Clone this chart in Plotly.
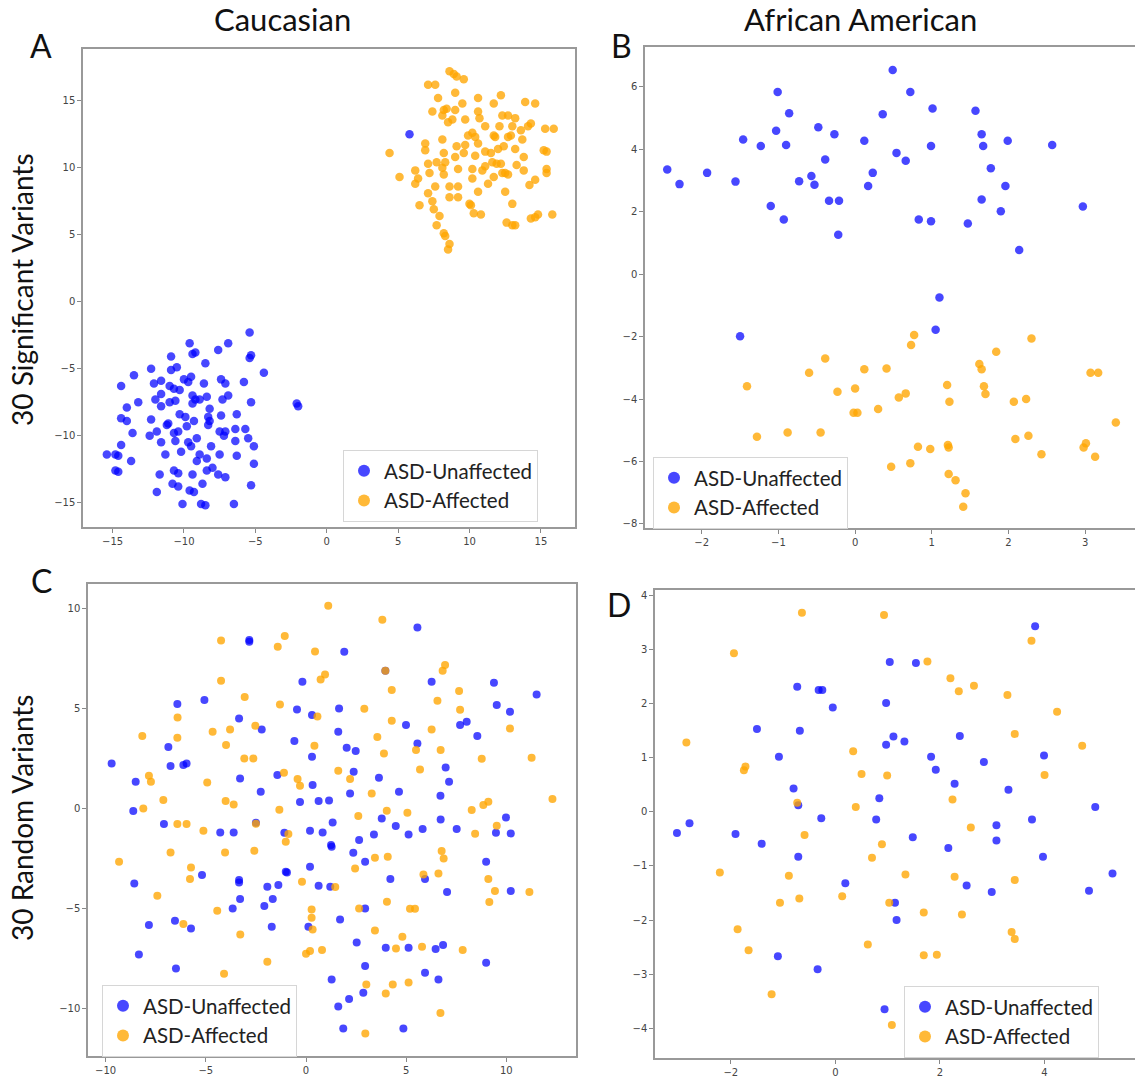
import plotly.graph_objects as go

# ---------------- Panel A: Caucasian, 30 significant variants ----------------
a_unaff = [(-5.4,-2.3),(-9.6,-3.1),(-6.9,-3.1),(-7.6,-3.6),(-9.4,-3.9),(-9.2,-3.8),(-5.4,-4.2),(-5.3,-4.0),
 (-10.9,-4.1),(-8.5,-4.6),(-13.5,-5.5),(-12.3,-5.0),(-10.9,-5.1),(-10.5,-4.9),(-4.4,-5.3),(-14.4,-6.3),
 (-12.1,-6.1),(-11.6,-5.9),(-11.0,-6.3),(-10.7,-6.5),(-10.3,-6.6),(-10.0,-5.8),(-9.7,-6.0),(-9.5,-5.6),
 (-8.6,-6.1),(-7.4,-5.8),(-7.1,-6.1),(-5.8,-6.0),(-13.2,-7.5),(-12.0,-7.3),(-11.6,-6.9),(-11.0,-7.5),
 (-10.6,-7.4),(-9.4,-7.0),(-9.2,-7.3),(-8.9,-7.3),(-8.4,-7.1),(-7.3,-7.3),(-6.9,-7.0),(-14.0,-7.9),
 (-11.6,-7.8),(-9.4,-7.6),(-8.2,-8.0),(-5.3,-7.5),(-2.1,-7.6),(-2.0,-7.8),(-14.4,-8.7),(-14.0,-8.9),
 (-12.3,-8.8),(-10.3,-8.4),(-9.9,-8.6),(-9.3,-8.9),(-8.3,-8.6),(-8.2,-8.9),(-7.4,-8.5),(-6.3,-8.4),
 (-13.6,-9.8),(-12.4,-10.0),(-11.9,-9.7),(-11.2,-9.2),(-11.1,-9.1),(-10.7,-9.8),(-10.4,-9.7),(-9.8,-9.3),
 (-8.3,-9.2),(-7.5,-9.7),(-7.2,-10.0),(-7.1,-9.7),(-6.4,-9.5),(-5.7,-9.5),(-14.4,-10.7),(-11.6,-10.5),
 (-10.6,-10.4),(-9.7,-10.5),(-9.5,-10.8),(-9.1,-10.2),(-8.1,-10.8),(-6.4,-10.4),(-5.5,-10.2),(-5.1,-10.8),
 (-15.4,-11.4),(-14.8,-11.4),(-14.6,-11.5),(-13.7,-11.9),(-11.3,-11.4),(-10.2,-11.2),(-9.1,-11.9),(-8.9,-11.4),
 (-8.4,-11.7),(-7.5,-11.4),(-6.3,-11.5),(-14.8,-12.6),(-14.6,-12.7),(-11.7,-12.9),(-10.7,-12.6),(-10.4,-12.8),
 (-9.4,-12.9),(-8.4,-12.6),(-8.0,-12.4),(-7.6,-12.9),(-7.1,-13.1),(-5.1,-12.1),(-11.9,-14.2),(-10.8,-13.6),
 (-10.4,-13.8),(-9.6,-14.1),(-9.3,-14.2),(-8.7,-13.6),(-5.3,-13.7),(-10.1,-15.1),(-8.8,-15.1),(-8.5,-15.2),
 (-6.5,-15.1),(5.8,12.5)]
a_aff = [(8.6,17.2),(8.9,17.0),(9.1,16.8),(9.6,16.6),(7.1,16.2),(7.6,16.2),(7.8,15.2),(9.0,15.6),(10.6,15.2),(12.2,15.4),
 (13.9,14.9),(14.6,14.8),(7.4,14.2),(8.2,14.3),(8.4,14.4),(9.0,14.3),(9.5,14.8),(10.6,14.2),(11.7,14.8),(8.1,13.9),
 (8.8,13.6),(8.5,13.4),(9.7,13.6),(10.7,13.7),(12.3,13.9),(12.7,13.9),(13.2,13.7),(11.1,13.1),(12.1,13.1),(13.0,13.1),
 (13.6,12.8),(14.1,13.1),(14.3,13.3),(15.3,12.9),(15.9,12.9),(9.9,12.4),(10.2,12.6),(10.4,12.3),(11.7,12.4),(11.8,12.3),
 (12.7,12.3),(12.9,12.4),(13.7,12.1),(6.9,11.8),(8.1,12.1),(9.1,11.6),(9.7,11.7),(10.6,11.8),(12.0,11.4),(12.4,11.6),
 (13.2,11.4),(4.4,11.1),(6.9,11.3),(8.2,11.1),(9.6,11.1),(10.4,10.9),(11.1,11.2),(11.5,11.1),(13.8,10.8),(15.2,11.3),
 (15.4,11.2),(7.1,10.3),(7.7,10.4),(9.0,10.8),(8.3,10.4),(11.6,10.4),(11.9,10.3),(12.2,10.3),(11.1,10.1),(13.3,10.2),
 (6.2,9.8),(7.2,9.6),(8.1,10.0),(8.2,9.5),(9.2,9.9),(10.2,9.9),(10.9,9.8),(12.5,9.6),(12.7,9.5),(13.8,9.8),
 (15.4,9.9),(15.4,9.6),(5.1,9.3),(6.4,9.2),(6.2,8.8),(7.6,8.6),(10.2,9.2),(11.7,9.3),(11.3,8.8),(12.3,9.6),
 (14.6,9.1),(14.2,8.7),(8.6,8.6),(9.2,8.6),(10.6,8.2),(12.5,8.2),(7.1,8.1),(8.6,7.8),(9.2,7.8),(7.4,7.5),
 (6.5,7.2),(7.5,6.9),(10.0,7.3),(10.1,7.2),(13.0,7.3),(7.9,6.4),(10.3,6.6),(10.8,6.5),(15.8,6.5),(14.3,6.2),
 (14.6,6.3),(14.8,6.5),(7.7,5.7),(12.6,5.9),(13.0,5.7),(13.2,5.7),(8.2,5.1),(8.3,4.9),(8.6,4.3),(8.5,3.9)]

# ---------------- Panel B: African American, 30 significant variants ----------------
b_unaff = [(-2.45,3.35),(-2.29,2.88),(-1.93,3.24),(-1.56,2.96),(-1.46,4.31),(-1.23,4.10),(-1.10,2.18),(-1.03,4.59),
 (-1.01,5.83),(-0.93,1.75),(-0.90,4.13),(-0.86,5.15),(-0.73,2.97),(-0.57,3.14),(-0.53,2.86),(-0.48,4.70),
 (-0.39,3.67),(-0.34,2.35),(-0.27,4.48),(-0.21,2.35),(-0.22,1.26),(0.12,4.27),(0.17,2.82),(0.23,3.24),
 (0.36,5.12),(0.49,6.53),(0.54,3.88),(0.66,3.63),(0.72,5.83),(0.83,1.75),(0.99,4.10),(1.01,5.30),
 (0.99,1.69),(1.10,-0.75),(1.05,-1.78),(1.47,1.62),(1.57,5.23),(1.65,4.48),(1.67,4.10),(1.65,2.39),
 (1.77,3.39),(1.90,2.01),(1.96,2.82),(1.99,4.27),(2.14,0.77),(2.57,4.13),(2.97,2.16),(-1.50,-1.99)]
b_aff = [(-1.41,-3.59),(-1.28,-5.21),(-0.88,-5.07),(-0.60,-3.16),(-0.45,-5.07),(-0.39,-2.70),(-0.23,-3.77),(0.00,-3.66),
 (-0.02,-4.44),(0.03,-4.44),(0.12,-3.05),(0.30,-4.32),(0.41,-3.02),(0.47,-6.17),(0.57,-3.95),(0.66,-3.82),
 (0.72,-6.06),(0.73,-2.27),(0.77,-1.95),(0.82,-5.53),(0.98,-5.60),(1.20,-3.55),(1.23,-4.09),(1.21,-5.47),
 (1.22,-5.55),(1.22,-6.40),(1.31,-6.60),(1.44,-7.02),(1.41,-7.45),(1.62,-2.88),(1.65,-3.05),(1.68,-3.59),
 (1.70,-3.84),(1.84,-2.49),(2.07,-4.09),(2.09,-5.28),(2.23,-4.00),(2.26,-5.18),(2.30,-2.06),(2.43,-5.77),
 (2.98,-5.55),(3.01,-5.42),(3.07,-3.16),(3.17,-3.16),(3.13,-5.85),(3.40,-4.75)]

# ---------------- Panel C: Caucasian, 30 random variants ----------------
c_unaff = [(-9.70,2.25),(-8.50,1.33),(-8.62,-0.13),(-8.57,-3.75),(-8.34,-7.30),(-7.84,-5.83),(-6.87,3.07),(-6.76,2.12),
 (-6.42,5.22),(-6.54,-5.62),(-6.49,-8.00),(-6.12,2.17),(-5.96,2.25),(-5.74,-6.00),(-7.09,-0.78),(-5.07,5.42),
 (-5.19,-3.33),(-4.28,-1.20),(-3.61,-1.20),(-3.66,-5.00),(-3.34,4.50),(-3.29,1.50),(-3.29,-4.53),(-3.34,-3.58),
 (-3.34,-3.70),(-2.83,8.33),(-2.83,8.42),(-2.50,-0.72),(-2.21,3.95),(-2.26,0.83),(-2.08,-4.88),(-1.93,-3.92),
 (-1.66,-4.53),(-1.71,-5.92),(-1.43,1.67),(-1.38,-3.83),(-1.08,-1.22),(-1.01,-3.17),(-0.95,-3.20),(-0.58,3.37),
 (-0.45,4.95),(-0.30,0.32),(-0.18,6.33),(0.20,-1.12),(0.20,-2.92),(0.12,-5.92),(0.30,2.58),(0.33,1.17),
 (0.30,4.67),(0.63,0.37),(0.63,-3.87),(0.83,-1.20),(1.15,0.40),(1.21,-3.92),(1.28,-8.55),(1.33,-0.70),
 (1.25,-1.83),(1.28,-1.92),(1.61,-9.90),(1.61,3.83),(1.65,5.00),(1.70,-5.55),(1.86,-11.00),(1.91,7.83),
 (2.03,3.03),(2.15,-9.53),(2.20,0.75),(2.38,1.83),(2.36,-2.22),(2.48,2.87),(2.53,-6.70),(2.65,-1.58),
 (2.86,-9.22),(2.95,-2.67),(2.95,-7.88),(2.95,-5.00),(3.39,-1.30),(3.64,1.53),(3.78,-0.50),(3.98,-6.97),
 (4.21,-3.53),(4.48,-0.88),(4.64,0.83),(4.86,-11.00),(4.99,4.17),(5.12,-1.30),(5.12,-6.97),(5.56,3.25),
 (5.56,9.05),(5.82,-1.03),(5.94,-3.53),(5.94,-8.22),(6.27,6.33),(6.47,-7.03),(6.61,-8.55),(6.71,0.63),
 (6.72,-0.55),(6.84,-6.83),(6.97,2.05),(7.04,-4.18),(7.14,1.33),(7.52,-1.03),(7.69,4.17),(8.02,4.33),
 (8.55,3.62),(8.99,-2.67),(8.99,-7.72),(9.38,6.28),(9.48,-1.22),(9.52,5.17),(9.98,-0.45),(10.18,4.83),
 (10.22,-1.25),(10.22,-4.13),(11.51,5.70),(3.96,6.88)]
c_aff = [(-9.33,-2.67),(-8.17,3.62),(-8.12,0.00),(-7.84,1.63),(-7.74,1.33),(-7.42,-4.37),(-7.12,0.42),(-6.76,-2.20),
 (-6.42,3.53),(-6.42,-0.78),(-6.41,4.55),(-6.12,-5.78),(-5.96,-0.78),(-5.79,-3.53),(-5.74,-2.95),(-5.12,-1.12),
 (-4.93,1.30),(-4.66,3.83),(-4.43,-5.12),(-4.24,8.40),(-4.24,6.38),(-4.09,-8.27),(-4.04,-2.20),(-4.01,0.37),
 (-3.99,3.17),(-3.79,3.95),(-3.61,0.20),(-3.28,-6.30),(-3.08,2.50),(-3.06,5.57),(-2.63,2.50),(-2.58,-2.12),
 (-2.53,4.13),(-2.50,-0.77),(-1.93,-7.67),(-1.41,8.08),(-1.33,-0.07),(-1.30,5.20),(-1.10,1.78),(-1.06,8.62),
 (-1.01,-1.67),(-0.88,-1.28),(-0.42,1.47),(-0.30,1.13),(-0.20,-3.67),(0.00,-7.27),(0.20,-7.13),(0.28,-5.05),
 (0.28,-5.47),(0.33,-6.05),(0.42,3.13),(0.45,7.85),(0.57,4.60),(0.73,6.45),(0.80,-7.08),(0.95,6.70),
 (1.11,10.13),(1.46,-3.93),(1.61,1.88),(2.20,1.47),(2.45,-3.00),(2.61,-0.38),(2.65,-5.00),(2.91,4.98),
 (3.01,-8.80),(2.96,-11.25),(3.28,0.75),(3.44,-2.47),(3.44,-6.10),(3.56,3.57),(3.81,9.43),(3.89,2.75),
 (3.96,6.88),(3.98,-9.25),(4.03,-0.12),(4.08,-2.42),(4.04,-4.67),(4.28,4.38),(4.28,5.92),(4.33,-8.80),
 (4.49,-7.00),(4.81,-6.42),(5.06,-0.22),(5.12,-8.70),(5.19,-5.02),(5.44,-5.02),(5.49,2.92),(5.69,1.95),
 (5.79,-6.92),(5.86,-3.30),(6.27,3.95),(6.56,5.38),(6.61,-3.25),(6.71,-10.23),(6.72,2.92),(6.77,-2.13),
 (6.82,6.88),(6.87,-2.50),(6.94,7.17),(7.64,5.87),(7.69,4.93),(7.82,-7.08),(8.27,-0.08),(8.44,-1.27),
 (8.77,2.48),(8.85,0.17),(9.10,0.33),(9.10,-3.53),(9.15,-4.68),(9.43,-4.13),(9.52,-0.87),(10.18,4.00),
 (11.15,-4.18),(11.26,2.53),(12.30,0.47)]

# ---------------- Panel D: African American, 30 random variants ----------------
d_unaff = [(-3.03,-0.39),(-2.79,-0.21),(-1.91,-0.41),(-1.50,1.53),(-1.41,-0.59),(-1.08,1.02),(-1.10,-2.67),(-0.80,0.43),
 (-0.73,2.31),(-0.71,0.12),(-0.71,-0.83),(-0.68,1.50),(-0.34,-2.91),(-0.32,2.25),(-0.25,2.25),(-0.27,-0.12),
 (-0.05,1.93),(0.19,-1.32),(0.78,-0.14),(0.84,0.25),(0.94,-3.65),(0.97,2.01),(0.97,1.24),(1.04,2.77),
 (1.11,1.39),(1.14,-1.68),(1.17,-2.00),(1.32,1.30),(1.54,2.75),(1.48,-0.47),(1.83,1.02),(1.92,0.78),
 (2.16,-0.67),(2.28,0.52),(2.38,1.40),(2.51,-1.36),(2.84,0.92),(2.99,-1.48),(3.08,-0.25),(3.08,-0.53),
 (3.31,0.41),(3.76,-0.14),(3.82,3.43),(3.97,-0.83),(3.99,1.04),(4.85,-1.46),(4.97,0.09),(5.30,-1.14)]
d_aff = [(-2.85,1.28),(-2.21,-1.12),(-1.94,2.93),(-1.87,-2.17),(-1.75,0.77),(-1.72,0.84),(-1.66,-2.56),(-1.22,-3.37),
 (-1.06,-1.68),(-0.89,-1.18),(-0.73,0.17),(-0.69,-1.60),(-0.64,3.68),(-0.59,-0.43),(0.13,-1.56),(0.34,1.12),
 (0.39,0.09),(0.50,0.70),(0.62,-2.45),(0.70,-0.85),(0.89,-0.60),(0.93,3.64),(0.99,0.67),(1.03,-1.68),
 (1.08,-3.94),(1.34,-1.16),(1.69,-1.86),(1.69,-2.65),(1.76,2.78),(1.94,-2.64),(2.20,2.47),(2.24,0.23),
 (2.28,-1.20),(2.36,2.23),(2.42,-1.90),(2.59,-0.29),(2.65,2.33),(3.29,2.16),(3.37,-2.22),(3.43,-2.35),
 (3.43,1.44),(3.43,-1.26),(3.75,3.16),(4.00,0.68),(4.24,1.85),(4.72,1.22)]

group_names = ["ASD-Unaffected", "ASD-Affected"]
column_titles = ["Caucasian", "African American"]
row_titles = ["30 Significant Variants", "30 Random Variants"]
panel_letters = ["A", "B", "C", "D"]

BLUE = "rgba(0,0,255,0.72)"
ORANGE = "rgba(255,165,0,0.78)"
W, H = 1135, 1077

panels = [
    dict(unaff=a_unaff, aff=a_aff, xr=[-17.07, 17.39], yr=[-16.82, 18.86],
         xt=[-15, -10, -5, 0, 5, 10, 15], yt=[-15, -10, -5, 0, 5, 10, 15],
         dx=[83/W, 575/W], dy=[(H-527)/H, (H-49)/H], size=8.5, right=True,
         leg=(343/W, (H-450)/H)),
    dict(unaff=b_unaff, aff=b_aff, xr=[-2.74, 3.65], yr=[-8.13, 7.27],
         xt=[-2, -1, 0, 1, 2, 3], yt=[-8, -6, -4, -2, 0, 2, 4, 6],
         dx=[645/W, 1.0], dy=[(H-528)/H, (H-47)/H], size=8.5, right=False,
         leg=(653/W, (H-457)/H)),
    dict(unaff=c_unaff, aff=c_aff, xr=[-10.88, 13.46], yr=[-12.38, 11.22],
         xt=[-10, -5, 0, 5, 10], yt=[-10, -5, 0, 5, 10],
         dx=[88/W, 575.7/W], dy=[(H-1056)/H, (H-584)/H], size=8, right=True,
         leg=(102/W, (H-985)/H)),
    dict(unaff=d_unaff, aff=d_aff, xr=[-3.45, 5.73], yr=[-4.55, 4.10],
         xt=[-2, 0, 2, 4], yt=[-4, -3, -2, -1, 0, 1, 2, 3, 4],
         dx=[655/W, 1.0], dy=[(H-1058)/H, (H-590)/H], size=8, right=False,
         leg=(904/W, (H-986)/H)),
]

fig = go.Figure()
layout = dict(width=W, height=H, margin=dict(l=0, r=0, t=0, b=0), autosize=False,
              paper_bgcolor="white", plot_bgcolor="white", showlegend=True)

tickfont = dict(family="DejaVu Sans", size=10, color="#444")
for i, p in enumerate(panels):
    n = "" if i == 0 else str(i + 1)
    leg = "legend" if i == 0 else "legend" + str(i + 1)
    for pts, name, col in [(p["unaff"], group_names[0], BLUE), (p["aff"], group_names[1], ORANGE)]:
        fig.add_trace(go.Scatter(
            x=[q[0] for q in pts], y=[q[1] for q in pts], mode="markers", name=name,
            marker=dict(color=col, size=p["size"], line=dict(width=0)),
            xaxis="x" + n, yaxis="y" + n, legend=leg, hoverinfo="skip"))
    layout["xaxis" + n] = dict(domain=p["dx"], range=p["xr"], anchor="y" + n,
        tickvals=p["xt"], ticks="outside", ticklen=4, tickcolor="#888", tickwidth=1,
        showline=True, linecolor="#999", linewidth=1.5, mirror=True,
        showgrid=False, zeroline=False, tickfont=tickfont)
    layout["yaxis" + n] = dict(domain=p["dy"], range=p["yr"], anchor="x" + n,
        tickvals=p["yt"], ticks="outside", ticklen=4, tickcolor="#888", tickwidth=1,
        showline=True, linecolor="#999", linewidth=1.5, mirror=p["right"],
        showgrid=False, zeroline=False, tickfont=tickfont)
    layout[leg] = dict(x=p["leg"][0], y=p["leg"][1], xanchor="left", yanchor="top",
        xref="paper", yref="paper", bgcolor="rgba(255,255,255,0.85)",
        bordercolor="#d6d6d6", borderwidth=1, itemsizing="constant",
        font=dict(family="Lato", size=20.5, color="#222"), tracegroupgap=0)

fig.update_layout(**layout)

annos = []
for txt, x in zip(column_titles, [282/W, 860/W]):
    annos.append(dict(text=txt, x=x, y=(H-19)/H, xref="paper", yref="paper",
                      showarrow=False, xanchor="center", yanchor="middle",
                      font=dict(family="Lato", size=31, color="#111")))
for txt, y in zip(row_titles, [(H-290)/H, (H-818)/H]):
    annos.append(dict(text=txt, x=22/W, y=y, xref="paper", yref="paper", textangle=-90,
                      showarrow=False, xanchor="center", yanchor="middle",
                      font=dict(family="Lato", size=28, color="#111")))
for txt, (x, y) in zip(panel_letters, [(41, 46), (621, 46), (41, 580), (619, 604)]):
    annos.append(dict(text=txt, x=x/W, y=(H-y)/H, xref="paper", yref="paper",
                      showarrow=False, xanchor="center", yanchor="middle",
                      font=dict(family="Lato", size=32, color="#111")))
fig.update_layout(annotations=annos)

fig.write_html("out.html", config={"displayModeBar": False},
               post_script="document.body.style.margin='0';")
